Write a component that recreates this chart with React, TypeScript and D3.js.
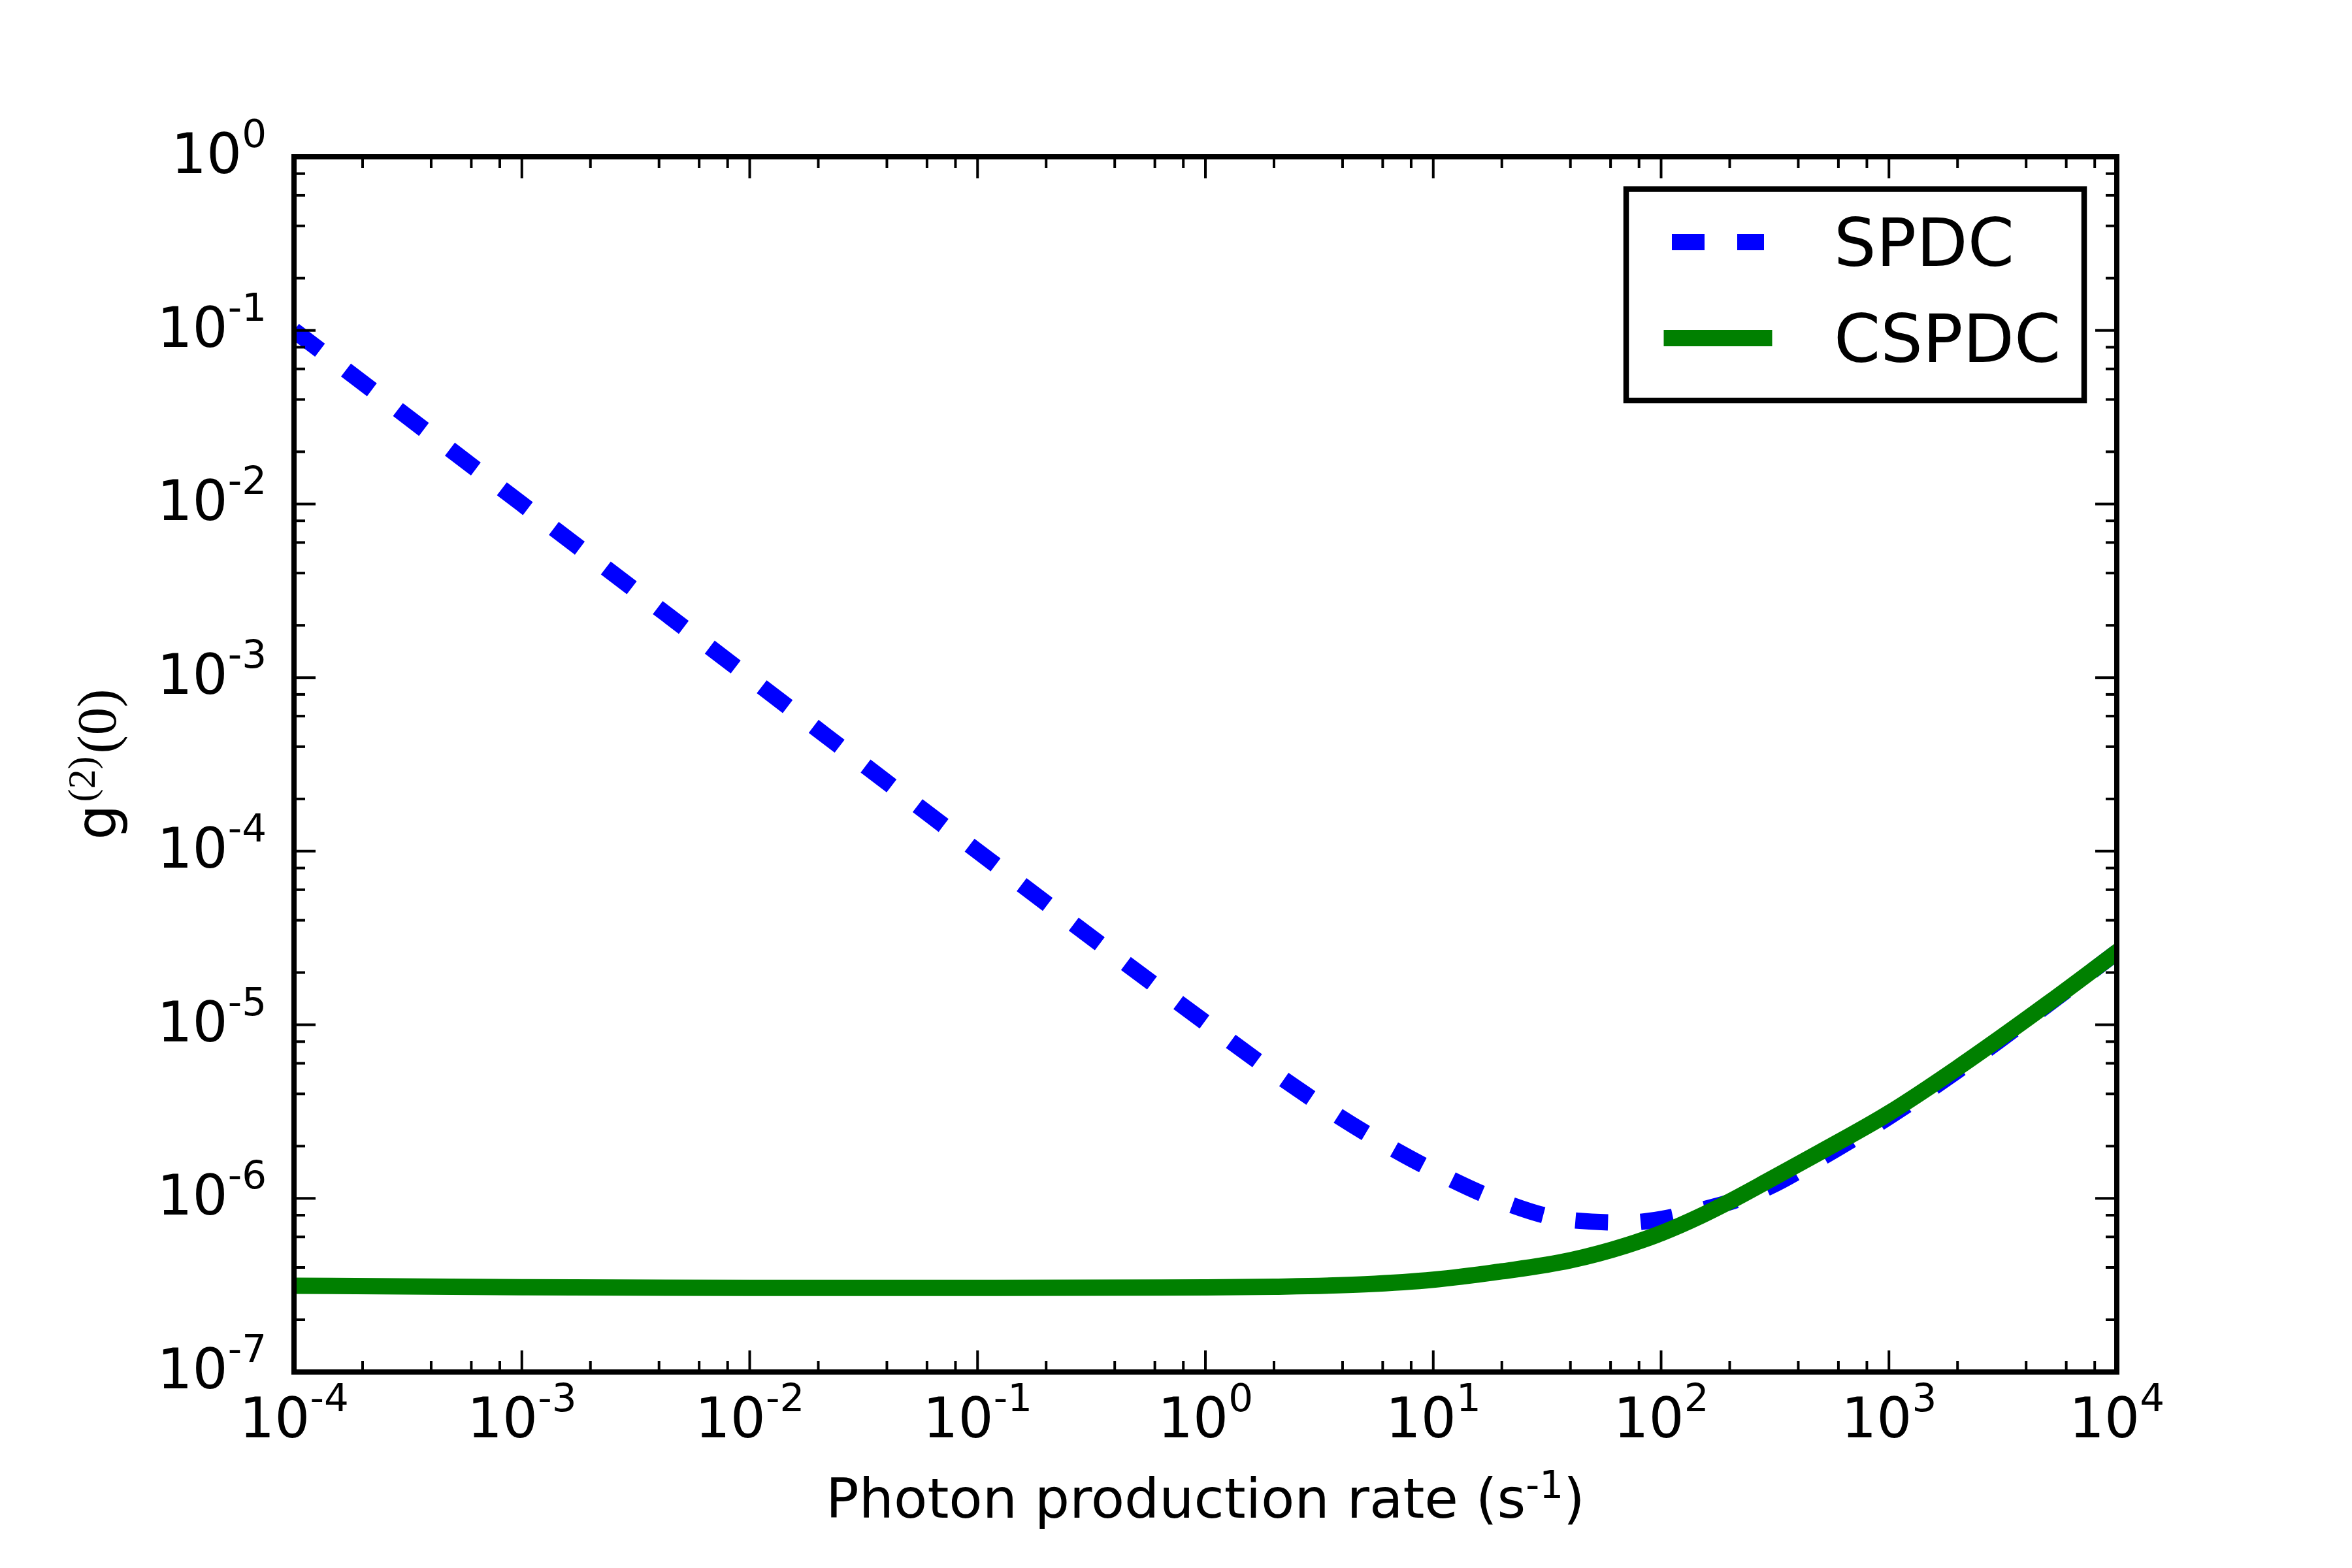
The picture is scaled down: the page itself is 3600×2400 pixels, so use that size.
import * as d3 from 'd3';
import React, { FC, useEffect, useRef } from 'react';

// photon production rate (s^-1) sample points
const rates = [
  1e-4, 1e-3, 1e-2, 1e-1, 1, 2, 5, 10, 20, 40, 70, 100, 150, 200, 300, 500,
  1000, 2000, 3000, 5000, 1e4
];

// g2(0) for the plain SPDC source (dashed blue)
const spdc = [
  0.1, 1.0e-2, 1.0e-3, 1.0e-4, 1.03e-5, 5.3e-6, 2.4e-6, 1.45e-6, 9.6e-7,
  7.5e-7, 7.25e-7, 7.6e-7, 8.6e-7, 9.5e-7, 1.17e-6, 1.7e-6, 2.95e-6, 5.45e-6,
  8.0e-6, 1.315e-5, 2.62e-5
];

// g2(0) for the CSPDC source (solid green)
const cspdc = [
  3.14e-7, 3.08e-7, 3.05e-7, 3.05e-7, 3.07e-7, 3.1e-7, 3.2e-7, 3.4e-7,
  3.8e-7, 4.4e-7, 5.35e-7, 6.3e-7, 7.95e-7, 9.6e-7, 1.28e-6, 1.85e-6, 3.1e-6,
  5.65e-6, 8.2e-6, 1.33e-5, 2.62e-5
];

const xExponents = [-4, -3, -2, -1, 0, 1, 2, 3, 4];
const yExponents = [-7, -6, -5, -4, -3, -2, -1, 0];
const minorSubs = [2, 4, 6, 8];

const seriesNames = ['SPDC', 'CSPDC'];

const App: FC = (): JSX.Element => {
  const ref = useRef<SVGSVGElement>(null);

  useEffect(() => {
    const width = 3600;
    const height = 2400;
    const left = 450;
    const right = 3240;
    const top = 240;
    const bottom = 2100;
    const font = 'DejaVu Sans';
    const tickFont = 85;
    const supFont = 59.5;

    const svg = d3.select(ref.current).attr('width', width).attr('height', height);
    svg.selectAll('*').remove();

    svg.append('rect').attr('width', width).attr('height', height).attr('fill', 'white');

    const x = d3.scaleLog().domain([1e-4, 1e4]).range([left, right]);
    const y = d3.scaleLog().domain([1e-7, 1]).range([bottom, top]);

    svg
      .append('clipPath')
      .attr('id', 'plot-area')
      .append('rect')
      .attr('x', left)
      .attr('y', top)
      .attr('width', right - left)
      .attr('height', bottom - top);

    const line = d3
      .line<[number, number]>()
      .x((d) => x(d[0]))
      .y((d) => y(d[1]))
      .curve(d3.curveMonotoneX);

    const plot = svg.append('g').attr('clip-path', 'url(#plot-area)');

    plot
      .append('path')
      .datum(rates.map((r, i) => [r, spdc[i]] as [number, number]))
      .attr('d', line)
      .attr('fill', 'none')
      .attr('stroke', '#0000ff')
      .attr('stroke-width', 25)
      .attr('stroke-dasharray', '50,50')
      .attr('stroke-linecap', 'butt');

    plot
      .append('path')
      .datum(rates.map((r, i) => [r, cspdc[i]] as [number, number]))
      .attr('d', line)
      .attr('fill', 'none')
      .attr('stroke', '#008000')
      .attr('stroke-width', 25)
      .attr('stroke-linecap', 'square')
      .attr('stroke-linejoin', 'round');

    // ticks, inward on all four sides
    const ticks = svg.append('g').attr('stroke', 'black').attr('stroke-width', 4);
    const majorLen = 33;
    const minorLen = 17;

    const xMinor: number[] = [];
    xExponents.slice(0, -1).forEach((e) =>
      minorSubs.forEach((s) => xMinor.push(s * Math.pow(10, e)))
    );
    const yMinor: number[] = [];
    yExponents.slice(0, -1).forEach((e) =>
      minorSubs.forEach((s) => yMinor.push(s * Math.pow(10, e)))
    );

    const xTick = (v: number, len: number) => {
      const px = x(v);
      ticks.append('line').attr('x1', px).attr('x2', px).attr('y1', bottom).attr('y2', bottom - len);
      ticks.append('line').attr('x1', px).attr('x2', px).attr('y1', top).attr('y2', top + len);
    };
    const yTick = (v: number, len: number) => {
      const py = y(v);
      ticks.append('line').attr('y1', py).attr('y2', py).attr('x1', left).attr('x2', left + len);
      ticks.append('line').attr('y1', py).attr('y2', py).attr('x1', right).attr('x2', right - len);
    };

    xExponents.forEach((e) => xTick(Math.pow(10, e), majorLen));
    xMinor.forEach((v) => xTick(v, minorLen));
    yExponents.forEach((e) => yTick(Math.pow(10, e), majorLen));
    yMinor.forEach((v) => yTick(v, minorLen));

    // frame
    svg
      .append('rect')
      .attr('x', left)
      .attr('y', top)
      .attr('width', right - left)
      .attr('height', bottom - top)
      .attr('fill', 'none')
      .attr('stroke', 'black')
      .attr('stroke-width', 8);

    const powerLabel = (
      px: number,
      py: number,
      exp: number,
      anchor: string
    ) => {
      const t = svg
        .append('text')
        .attr('x', px)
        .attr('y', py)
        .attr('text-anchor', anchor)
        .attr('font-family', font)
        .attr('font-size', tickFont)
        .attr('fill', 'black');
      t.append('tspan').text('10');
      t.append('tspan').attr('font-size', supFont).attr('dy', -40).text(String(exp));
    };

    xExponents.forEach((e) => powerLabel(x(Math.pow(10, e)), 2200, e, 'middle'));
    yExponents.forEach((e) => powerLabel(408, y(Math.pow(10, e)) + 25, e, 'end'));

    // x axis label
    const xl = svg
      .append('text')
      .attr('x', (left + right) / 2)
      .attr('y', 2323)
      .attr('text-anchor', 'middle')
      .attr('font-family', font)
      .attr('font-size', 84)
      .attr('fill', 'black');
    xl.append('tspan').text('Photon production rate (s');
    xl.append('tspan').attr('font-size', 58).attr('dy', -30).text('-1');
    xl.append('tspan').attr('dy', 30).text(')');

    // y axis label
    const yl = svg
      .append('text')
      .attr('transform', `translate(177, ${(top + bottom) / 2}) rotate(-90)`)
      .attr('text-anchor', 'middle')
      .attr('font-size', tickFont)
      .attr('fill', 'black');
    yl.append('tspan').attr('font-family', font).text('g');
    yl.append('tspan')
      .attr('font-family', 'Liberation Serif')
      .attr('font-size', 60)
      .attr('dy', -32)
      .attr('dx', 4)
      .text('(2)');
    yl.append('tspan')
      .attr('font-family', 'Liberation Serif')
      .attr('dy', 32)
      .attr('dx', 4)
      .text('(0)');

    // legend
    const legend = svg.append('g');
    legend
      .append('rect')
      .attr('x', 2489)
      .attr('y', 289.5)
      .attr('width', 701)
      .attr('height', 323.5)
      .attr('fill', 'white')
      .attr('stroke', 'black')
      .attr('stroke-width', 8.5);

    const rows = [370.5, 517.5];
    seriesNames.forEach((name, i) => {
      const h = legend
        .append('line')
        .attr('x1', 2559)
        .attr('x2', 2700)
        .attr('y1', rows[i])
        .attr('y2', rows[i])
        .attr('stroke-width', 25);
      if (i === 0) {
        h.attr('stroke', '#0000ff').attr('stroke-dasharray', '50,50').attr('stroke-linecap', 'butt');
      } else {
        h.attr('stroke', '#008000').attr('stroke-linecap', 'square');
      }
      legend
        .append('text')
        .attr('x', 2807)
        .attr('y', rows[i] + 36.5)
        .attr('font-family', font)
        .attr('font-size', 102)
        .attr('fill', 'black')
        .text(name);
    });
  }, []);

  return (
    <svg
      ref={ref}
      style={{ position: 'absolute', left: 0, top: 0, display: 'block' }}
    />
  );
};

export default App;
